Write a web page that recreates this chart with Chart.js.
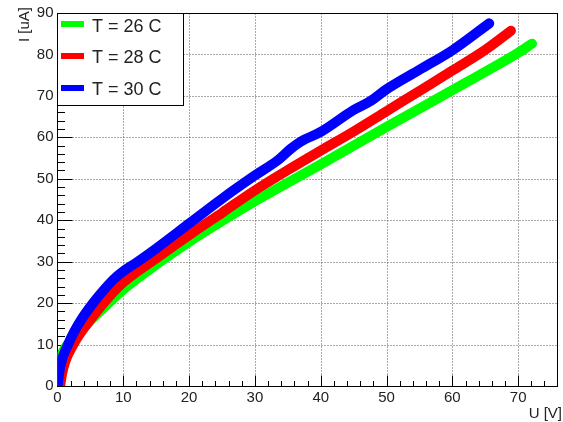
<!DOCTYPE html>
<html>
<head>
<meta charset="utf-8">
<script src="https://cdn.jsdelivr.net/npm/chart.js@4.4.1/dist/chart.umd.min.js"></script>
<style>
  html, body { margin: 0; padding: 0; background: #fff; overflow: hidden; }
  canvas { display: block; }
</style>
</head>
<body>
<canvas id="c" width="563" height="422"></canvas>
<script>
// ---- data ----
const seriesLabels = ["T = 26 C", "T = 28 C", "T = 30 C"];
const seriesColors = ["#00ff00", "#ff0000", "#0000ff"];

const u26 = [0, 0.1, 0.5, 1.2, 2, 3.5, 5, 7.5, 10, 15, 20, 25, 30, 40, 50, 60, 70, 72.1];
const i26 = [0, 4, 7, 9.3, 10.8, 13.3, 15.8, 19.6, 23.3, 29.3, 34.8, 39.8, 44.6, 53.5, 62.5, 71.4, 80.4, 82.6];

const u28 = [0.4, 0.7, 1.2, 2.4, 3.5, 5, 7, 10, 15, 20, 25, 30, 35, 40, 45, 50, 55, 60, 65, 68.9];
const i28 = [0, 3, 6, 10, 12.8, 16, 20, 25, 30.8, 36.4, 41.8, 47.2, 52.1, 56.8, 61.4, 66.3, 71.2, 76.1, 81.1, 85.7];

const u30 = [0, 0.4, 1.6, 2.5, 3.6, 5.4, 7, 8.5, 10, 12, 15, 20, 25, 30, 33.5, 35.5, 37, 40, 45, 47.5, 50, 55, 60, 65.6];
const i30 = [0, 4.6, 10, 13, 16, 20, 23.1, 25.7, 27.7, 29.8, 33.2, 39.2, 45.2, 50.8, 54.5, 57.3, 59, 61.3, 66.6, 68.7, 71.6, 76.3, 81, 87.5];

const xRange = [0, 75.9];
const yRange = [0, 90];
const xTitle = "U [V]";
const yTitle = "I [uA]";

function pts(us, is) { return us.map((u, k) => ({ x: u, y: is[k] })); }

const seriesU = [u26, u28, u30];
const seriesI = [i26, i28, i30];

const datasets = seriesLabels.map((lab, k) => ({
  label: lab,
  data: pts(seriesU[k], seriesI[k]),
  borderColor: seriesColors[k],
  backgroundColor: seriesColors[k],
  borderWidth: 10,
  borderCapStyle: "round",
  borderJoinStyle: "round",
  pointRadius: 0,
  cubicInterpolationMode: "monotone",
  fill: false,
  order: 3 - k
}));

const FONT = "'Liberation Sans', Arial, Helvetica, sans-serif";

const rootStyle = {
  id: "rootStyle",
  beforeDatasetsDraw(chart) {
    const ctx = chart.ctx;
    const a = chart.chartArea;
    const xs = chart.scales.x, ys = chart.scales.y;
    const L = Math.floor(a.left) + 0.5, R = Math.floor(a.right) + 0.5;
    const T = Math.floor(a.top) + 0.5, B = Math.floor(a.bottom) + 0.5;
    ctx.save();
    // dotted grid
    ctx.strokeStyle = "#555";
    ctx.lineWidth = 1;
    ctx.setLineDash([1, 2]);
    xs.ticks.forEach(t => {
      if (t.value <= xRange[0] || t.value >= xRange[1]) return;
      const p = Math.round(xs.getPixelForValue(t.value)) + 0.5;
      ctx.beginPath(); ctx.moveTo(p, T); ctx.lineTo(p, B); ctx.stroke();
    });
    ys.ticks.forEach(t => {
      if (t.value <= yRange[0] || t.value >= yRange[1]) return;
      const p = Math.round(ys.getPixelForValue(t.value)) + 0.5;
      ctx.beginPath(); ctx.moveTo(L, p); ctx.lineTo(R, p); ctx.stroke();
    });
    ctx.setLineDash([]);
    // frame
    ctx.strokeStyle = "#000";
    ctx.lineWidth = 1;
    ctx.strokeRect(L, T, R - L, B - T);
    // ticks
    ctx.beginPath();
    for (let v = 0; v <= xRange[1] + 1e-6; v += 2) {
      const p = Math.round(xs.getPixelForValue(v)) + 0.5;
      const major = Math.abs(v % 10) < 1e-6;
      ctx.moveTo(p, B); ctx.lineTo(p, B - (major ? 11 : 5.5));
    }
    for (let v = 0; v <= yRange[1] + 1e-6; v += 2) {
      const p = Math.round(ys.getPixelForValue(v)) + 0.5;
      const major = Math.abs(v % 10) < 1e-6;
      ctx.moveTo(L, p); ctx.lineTo(L + (major ? 15 : 7.5), p);
    }
    ctx.stroke();
    ctx.restore();
  },
  afterDraw(chart) {
    const ctx = chart.ctx;
    const a = chart.chartArea;
    ctx.save();
    // axis titles
    ctx.fillStyle = "#222";
    ctx.font = "15px " + FONT;
    ctx.textAlign = "right";
    ctx.textBaseline = "alphabetic";
    ctx.fillText(xTitle, 562, 418);
    ctx.save();
    ctx.translate(29, 7);
    ctx.rotate(-Math.PI / 2);
    ctx.textAlign = "right";
    ctx.fillText(yTitle, 0, 0);
    ctx.restore();
    // legend box
    const bx = Math.floor(a.left) + 0.5, by = Math.floor(a.top) + 0.5;
    ctx.fillStyle = "#fff";
    ctx.fillRect(bx, by, 126, 92);
    ctx.strokeStyle = "#000";
    ctx.lineWidth = 1;
    ctx.strokeRect(bx, by, 126, 92);
    chart.data.datasets.forEach((ds, k) => {
      const yc = 24 + 32 * k;
      ctx.strokeStyle = ds.borderColor;
      ctx.lineWidth = 6;
      ctx.beginPath(); ctx.moveTo(61, yc); ctx.lineTo(84, yc); ctx.stroke();
      ctx.fillStyle = "#222";
      ctx.font = "18px " + FONT;
      ctx.textAlign = "left";
      ctx.textBaseline = "alphabetic";
      ctx.fillText(ds.label, 92, 31.5 + 31.7 * k);
    });
    ctx.restore();
  }
};

new Chart(document.getElementById("c"), {
  type: "line",
  data: { datasets },
  options: {
    responsive: false,
    animation: false,
    events: [],
    layout: { padding: { top: 9, right: 6, left: 0, bottom: 0 } },
    plugins: { legend: { display: false }, tooltip: { enabled: false } },
    scales: {
      x: {
        type: "linear",
        min: xRange[0], max: xRange[1],
        grid: { display: false, drawTicks: false },
        border: { display: false },
        ticks: { stepSize: 10, includeBounds: false, color: "#222", font: { family: FONT, size: 15 }, padding: 3, maxRotation: 0 },
        afterFit(s) { s.height = 36; }
      },
      y: {
        type: "linear",
        min: yRange[0], max: yRange[1],
        grid: { display: false, drawTicks: false },
        border: { display: false },
        ticks: { stepSize: 10, includeBounds: false, color: "#222", font: { family: FONT, size: 15 }, padding: 4 },
        afterFit(s) { s.width = 57.5; }
      }
    }
  },
  plugins: [rootStyle]
});
</script>
</body>
</html>
